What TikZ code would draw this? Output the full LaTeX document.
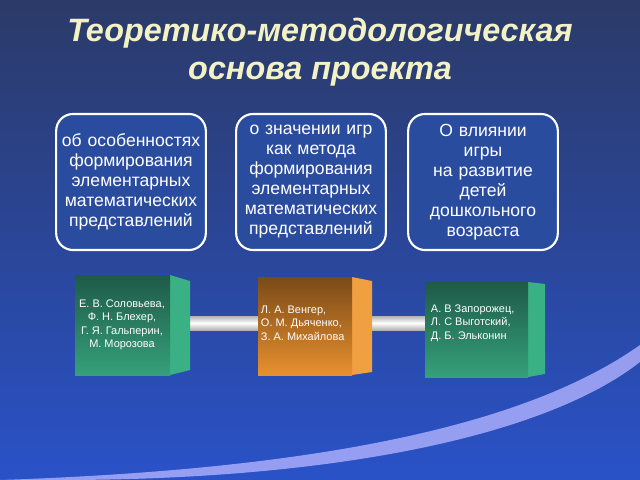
\documentclass[tikz,border=0pt]{standalone}
\usepackage{fontspec}
\setmainfont{Liberation Sans}
\definecolor{bgtop}{HTML}{2B3A68}
\definecolor{bgbot}{HTML}{2A52C8}
\definecolor{titlecol}{HTML}{F2F2C4}
\definecolor{boxfill}{HTML}{2A4C9E}
\definecolor{greendark}{HTML}{1E5A48}
\definecolor{greenlight}{HTML}{35A07A}
\definecolor{greenside}{HTML}{3AB085}
\definecolor{orangedark}{HTML}{7A4A18}
\definecolor{orangelight}{HTML}{E8902E}
\definecolor{orangeside}{HTML}{F0A040}
\begin{document}
\begin{tikzpicture}[x=0.025cm, y=-0.025cm,
        topic/.style={rectangle, rounded corners=12pt, draw=white, line width=1.5pt, fill=boxfill,
            text=white, text width=3.6cm, inner sep=2pt, minimum height=3.4cm, align=center, font=\fontsize{12.5}{14.2}\selectfont},
        author/.style={text=white, align=center, font=\fontsize{7.8}{9.6}\selectfont},
        bar/.style={top color=gray!60, bottom color=gray!60, middle color=white, line cap=round}]
        
        % background
        \useasboundingbox (0,0) rectangle (640,480);
        \shade[top color=bgtop, bottom color=bgbot] (0,0) rectangle (640,480);
        \fill[blue!30!white, opacity=0.8] (0,480) .. controls (300,470) and (520,430) .. (640,345)
            -- (640,362) .. controls (540,440) and (320,480) .. (60,480) -- cycle;
        
        % title
        \node[text=titlecol, font=\fontsize{23}{27}\selectfont\bfseries\itshape, align=center] (title) at (320,52)
            {Теоретико-методологическая\\основа проекта};
        
        % topics
        \node[topic] (features) at (131,182) {об особенностях\\формирования\\элементарных\\математических\\представлений};
        \node[topic] (games) at (311,182) {о значении игр\\как метода\\формирования\\элементарных\\математических\\представлений};
        \node[topic] (influence) at (483,182) {О влиянии\\игры\\на развитие\\детей\\дошкольного\\возраста};
        
        % connecting bars
        \fill[bar] (170,316) rectangle (258,330);
        \fill[bar] (352,316) rectangle (425,330);
        
        % cubes
        \fill[greenside] (170,275) -- (190,281) -- (190,370) -- (170,375) -- cycle;
        \shade[top color=greendark, bottom color=greenlight] (75,275) rectangle (170,375);
        \fill[orangeside] (352,277) -- (372,281) -- (372,372) -- (352,375) -- cycle;
        \shade[top color=orangedark, bottom color=orangelight] (258,277) rectangle (352,375);
        \fill[greenside] (528,282) -- (545,284) -- (545,374) -- (528,377) -- cycle;
        \shade[top color=greendark, bottom color=greenlight] (425,282) rectangle (528,377);
        
        % authors
        \node[author] (left) at (122,325) {Е. В. Соловьева,\\Ф. Н. Блехер,\\Г. Я. Гальперин,\\М. Морозова};
        \node[author, align=left, anchor=west] (mid) at (256,323) {Л. А. Венгер,\\О. М. Дьяченко,\\З. А. Михайлова};
        \node[author, align=left, anchor=west] (right) at (426,323) {А. В Запорожец,\\Л. С Выготский,\\Д. Б. Эльконин};
        
    \end{tikzpicture}
\end{document}
